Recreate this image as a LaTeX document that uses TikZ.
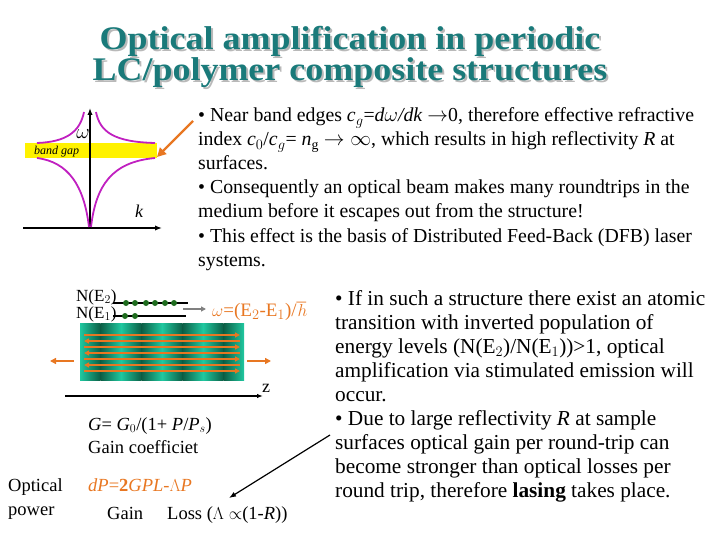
\documentclass[tikz,border=0pt]{standalone}
\usepackage{fontspec}
\setmainfont{Liberation Serif}
\usetikzlibrary{arrows.meta}
\definecolor{titlec}{HTML}{1A7A7A}
\definecolor{orng}{HTML}{E87722}
\definecolor{mag}{HTML}{C020C0}
\definecolor{dgreen}{HTML}{0B5E45}
\definecolor{lgreen}{HTML}{20C8A0}
\definecolor{dotg}{HTML}{1E6B1E}
\tikzset{
  txt/.style={anchor=base west,inner sep=0pt,font=\fontsize{18.5}{20}\selectfont},
  txta/.style={anchor=base west,inner sep=0pt,font=\fontsize{19.8}{22}\selectfont},
  txtb/.style={anchor=base west,inner sep=0pt,font=\fontsize{21.3}{24}\selectfont},
  ttl/.style={font=\fontsize{33}{36}\selectfont\bfseries,inner sep=0pt,xscale=1.09,transform shape},
  curve/.style={mag,line width=1.8pt},
  ray/.style={orng,line width=1.2pt},
  dot/.style={circle,fill=dotg,inner sep=0pt,minimum size=6pt}
}
\begin{document}
\begin{tikzpicture}[x=1pt,y=-1pt]
\useasboundingbox (0,0) rectangle (720,540);
% title
\node[ttl,text=gray!55] (t1s) at (352,43) {Optical amplification in periodic};
\node[ttl,text=titlec] (t1) at (350,41) {Optical amplification in periodic};
\node[ttl,text=gray!55] (t2s) at (352,75) {LC/polymer composite structures};
\node[ttl,text=titlec] (t2) at (350,73) {LC/polymer composite structures};
% band diagram
\fill[yellow] (25,143) rectangle (157,158);
\node[inner sep=0pt,anchor=base west,font=\fontsize{12}{14}\selectfont\itshape] (bg) at (34,155) {band gap};
\coordinate (o) at (90,228);
\coordinate (ytop) at (90,108);
\coordinate (xl) at (23,228);
\coordinate (xr) at (162,228);
\draw[-{Latex[length=7pt]},line width=1.3pt] (o) -- (ytop);
\draw[-{Latex[length=7pt]},line width=1.3pt] (xl) -- (xr);
\node[inner sep=0pt,font=\fontsize{20}{22}\selectfont\itshape] (om) at (83,134) {$\omega$};
\node[inner sep=0pt,font=\fontsize{18}{20}\selectfont\itshape] (kk) at (139,211) {k};
\draw[curve] (84,112) .. controls (80,132) and (66,142) .. (37,143);
\draw[curve] (96,112) .. controls (100,132) and (114,142) .. (155,143);
\draw[curve] (37,158) .. controls (68,162) and (84,185) .. (89,227);
\draw[curve] (155,158) .. controls (112,162) and (96,185) .. (91,227);
\coordinate (oa1) at (193,121);
\coordinate (oa2) at (157,157);
\draw[orng,line width=2.2pt,-{Triangle[length=9pt,width=9pt]}] (oa1) -- (oa2);
% right text 1
\node[txta] (r1) at (198,122) {• Near band edges \textit{c}$_g$=\textit{d}$\omega$\textit{/dk} $\rightarrow$0, therefore effective refractive};
\node[txta] (r2) at (198,146) {index \textit{c}$_0$/\textit{c}$_g$= \textit{n}$_{\mathrm g}$ $\rightarrow\infty$, which results in high reflectivity \textit{R} at};
\node[txta] (r3) at (198,170) {surfaces.};
\node[txta] (r4) at (198,194) {• Consequently an optical beam makes many roundtrips in the};
\node[txta] (r5) at (198,218) {medium before it escapes out from the structure!};
\node[txta] (r6) at (198,242) {• This effect is the basis of Distributed Feed-Back (DFB) laser};
\node[txta] (r7) at (198,266) {systems.};
% right text 2
\node[txtb] (s1) at (335,305) {• If in such a structure there exist an atomic};
\node[txtb] (s2) at (335,329) {transition with inverted population of};
\node[txtb] (s3) at (335,353) {energy levels (N(E$_2$)/N(E$_1$))>1, optical};
\node[txtb] (s4) at (335,377) {amplification via stimulated emission will};
\node[txtb] (s5) at (335,401) {occur.};
\node[txtb] (s6) at (335,425) {• Due to large reflectivity \textit{R} at sample};
\node[txtb] (s7) at (335,449) {surfaces optical gain per round-trip can};
\node[txtb] (s8) at (335,473) {become stronger than optical losses per};
\node[txtb] (s9) at (335,497) {round trip, therefore \textbf{lasing} takes place.};
% slab
\foreach \i in {0,1,2,3} {
  \shade[left color=lgreen,right color=dgreen] (80+\i*41,323) rectangle (100.5+\i*41,380);
  \shade[left color=dgreen,right color=lgreen] (100.5+\i*41,323) rectangle (121+\i*41,380);
}
\foreach \y/\d in {335/0,341/1,347/0,353/1,359/0,365/1,371/0} {
  \ifnum\d=0
    \draw[ray,-{Triangle[length=5pt,width=5pt]}] (84,\y) -- (240,\y);
  \else
    \draw[ray,-{Triangle[length=5pt,width=5pt]}] (240,\y) -- (84,\y);
  \fi
}
\coordinate (la1) at (74,361); \coordinate (la2) at (50,361);
\coordinate (ra1) at (247,361); \coordinate (ra2) at (271,361);
\draw[ray,line width=1.5pt,-{Triangle[length=6pt,width=6pt]}] (la1) -- (la2);
\draw[ray,line width=1.5pt,-{Triangle[length=6pt,width=6pt]}] (ra1) -- (ra2);
\coordinate (z1) at (65,396); \coordinate (z2) at (263,396);
\draw[line width=1.2pt,-{Latex[length=6pt]}] (z1) -- (z2);
\node[inner sep=0pt,font=\fontsize{18}{20}\selectfont] (zl) at (266,388) {z};
% levels
\coordinate (u1) at (113,303); \coordinate (u2) at (188,303);
\coordinate (d1) at (113,316); \coordinate (d2) at (186,316);
\draw[line width=1.5pt] (u1) -- (u2);
\draw[line width=1.5pt] (d1) -- (d2);
\foreach \x in {126,135,146,155,165,174} \node[dot] at (\x,303) {};
\foreach \x in {125,135} \node[dot] at (\x,316) {};
\node[inner sep=0pt,anchor=base west,font=\fontsize{17}{20}\selectfont] (ne2) at (76,301) {N(E$_2$)};
\node[inner sep=0pt,anchor=base west,font=\fontsize{17}{20}\selectfont] (ne1) at (76,318) {N(E$_1$)};
\coordinate (g1) at (183,309); \coordinate (g2) at (206,309);
\draw[gray,line width=1.3pt,-{Triangle[length=5pt,width=5pt]}] (g1) -- (g2);
\node[inner sep=0pt,anchor=base west,text=orng,font=\fontsize{19}{22}\selectfont] (wl) at (212,316) {$\omega$=(E$_2$-E$_1$)/$\hbar$};
% bottom formulas
\node[txt] (b1) at (88,430) {\textit{G}= \textit{G}$_0$/(1+ \textit{P}/\textit{P}$_s$)};
\node[txt] (b2) at (88,453) {Gain coefficiet};
\node[txt] (b3) at (8,491) {Optical};
\node[txt] (b4) at (8,515) {power};
\node[txt,text=orng] (b5) at (88,491) {\textit{dP}=\textbf{2}\textit{GPL}-$\Lambda$\textit{P}};
\node[txt] (b6) at (107,519) {Gain};
\node[txt] (b7) at (167,519) {Loss ($\Lambda\propto$(1-\textit{R}))};
\coordinate (ba1) at (330,435);
\draw[line width=1.2pt,-{Latex[length=7pt]}] (ba1) -- (229,498);
\end{tikzpicture}
\end{document}
